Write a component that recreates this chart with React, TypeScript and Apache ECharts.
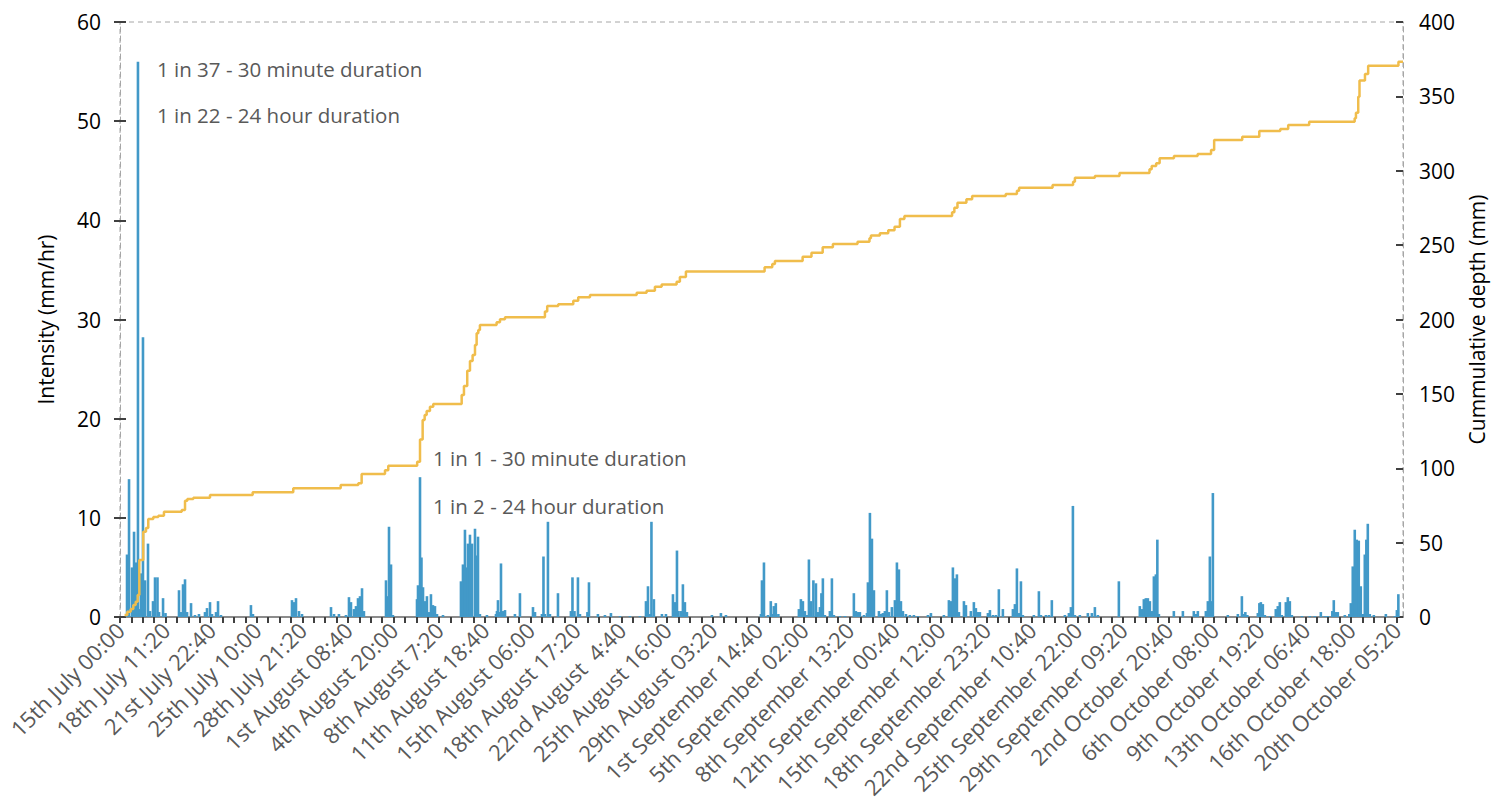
import React, { useEffect, useRef } from 'react';
import * as echarts from 'echarts';

const FONT = '"Open Sans", "Noto Sans", sans-serif';

// Time is counted in 10-minute steps from 15th July 00:00.
const STEPS_PER_LABEL = 500; // 83h20m between labelled ticks
const STEPS_PER_TICK = 125;
const X_MAX = 14070;

const tickLabels = [
  '15th July 00:00', '18th July 11:20', '21st July 22:40', '25th July 10:00', '28th July 21:20',
  '1st August 08:40', '4th August 20:00', '8th August 7:20', '11th August 18:40', '15th August 06:00',
  '18th August 17:20', '22nd August  4:40', '25th August 16:00', '29th August 03:20', '1st September 14:40',
  '5th September 02:00', '8th September 13:20', '12th September 00:40', '15th September 12:00',
  '18th September 23:20', '22nd September 10:40', '25th September 22:00', '29th September 09:20',
  '2nd October 20:40', '6th October 08:00', '9th October 19:20', '13th October 06:40',
  '16th October 18:00', '20th October 05:20',
];

// [step, intensity mm/hr]
const julyRain = [
  [77, 6.3], [99, 13.9], [132, 5.0], [154, 8.6], [175, 5.5], [197, 56.0], [219, 0.8], [230, 4.4],
  [252, 28.2], [274, 3.7], [307, 7.4], [329, 0.6], [362, 1.6], [384, 4.0], [411, 4.0], [428, 0.5],
  [472, 1.9], [499, 0.4], [647, 2.7], [669, 0.5], [691, 3.3], [713, 3.8], [735, 0.5], [779, 1.4],
  [822, 0.2], [866, 0.3], [932, 0.5], [954, 0.9], [987, 1.5], [1009, 0.3], [1053, 0.5], [1075, 1.6],
  [1107, 0.2], [1436, 1.2], [1458, 0.3], [1886, 1.7], [1908, 1.5], [1930, 1.9], [1963, 0.6],
  [1996, 0.3], [2314, 1.0], [2347, 0.3], [2401, 0.3],
];

const augustRain = [
  [2478, 0.2], [2511, 2.0], [2533, 1.5], [2566, 0.8], [2588, 1.1], [2610, 1.9], [2632, 2.1],
  [2654, 2.9], [2675, 0.6], [2917, 3.7], [2933, 2.1], [2950, 9.1], [2972, 5.3], [2993, 0.2],
  [3257, 1.8], [3268, 3.2], [3290, 14.1], [3306, 6.0], [3323, 3.0], [3345, 1.6], [3366, 2.1],
  [3388, 0.5], [3410, 2.3], [3432, 1.2], [3454, 1.1], [3476, 0.3], [3542, 0.2], [3739, 3.6],
  [3761, 5.3], [3783, 8.8], [3805, 5.0], [3816, 7.4], [3838, 8.3], [3860, 7.4], [3893, 8.9],
  [3909, 6.2], [3926, 8.1], [3947, 0.3], [4024, 0.2], [4123, 0.3], [4134, 0.6], [4145, 1.7],
  [4161, 0.5], [4178, 5.4], [4200, 0.6], [4222, 0.7], [4331, 0.3], [4386, 2.4], [4529, 1.0],
  [4551, 0.5], [4627, 0.3], [4644, 6.1], [4660, 0.3], [4693, 9.6], [4715, 0.3], [4803, 2.4],
  [4945, 0.6], [4962, 4.0], [4984, 0.6], [5022, 4.0], [5044, 0.3], [5126, 0.5], [5143, 3.5],
  [5241, 0.3], [5318, 0.2], [5384, 0.4], [5483, 0.1], [5592, 0.1], [5702, 0.1], [5768, 1.6],
  [5790, 3.1], [5812, 0.3], [5828, 9.6], [5855, 1.8], [5943, 0.3], [5987, 0.3], [6064, 2.3],
  [6086, 1.5], [6108, 6.7], [6124, 0.6], [6151, 0.6], [6173, 3.3], [6195, 1.5], [6217, 0.5],
  [6491, 0.2], [6590, 0.4], [6645, 0.2],
];

const septemberRain = [
  [7029, 0.3], [7040, 3.7], [7062, 5.5], [7105, 0.2], [7137, 1.6], [7159, 0.3], [7170, 1.1],
  [7192, 1.4], [7220, 0.3], [7445, 0.8], [7467, 1.8], [7489, 1.6], [7511, 0.6], [7533, 0.2],
  [7555, 5.8], [7577, 1.6], [7604, 3.7], [7632, 3.4], [7654, 0.5], [7676, 1.0], [7692, 2.4],
  [7708, 3.9], [7730, 0.2], [7785, 0.6], [7807, 3.9], [7829, 0.2], [7895, 0.1], [7950, 0.1],
  [8048, 2.4], [8070, 0.6], [8092, 0.5], [8114, 0.5], [8158, 0.2], [8191, 0.4], [8202, 3.5],
  [8224, 10.5], [8246, 7.9], [8268, 2.7], [8323, 0.6], [8344, 0.3], [8366, 0.4], [8388, 0.6],
  [8410, 2.7], [8432, 0.5], [8465, 1.0], [8498, 1.7], [8520, 5.5], [8542, 4.8], [8564, 1.6],
  [8586, 0.6], [8619, 0.3], [8662, 0.2], [8706, 0.2], [8750, 0.1], [8860, 0.2], [8893, 0.4],
  [9035, 0.2], [9090, 1.7], [9112, 1.6], [9134, 5.0], [9156, 3.9], [9178, 4.3], [9200, 0.5],
  [9255, 1.6], [9277, 1.2], [9331, 0.6], [9364, 1.5], [9386, 0.9], [9408, 0.5], [9430, 0.5],
  [9518, 0.4], [9540, 0.7], [9573, 0.2], [9605, 0.2], [9638, 2.8], [9682, 0.8], [9792, 0.8],
  [9814, 1.3], [9836, 4.9], [9857, 0.4], [9880, 3.6], [9901, 0.2], [10022, 0.2], [10077, 2.6],
  [10099, 0.2], [10154, 0.2], [10187, 0.2], [10219, 1.7], [10362, 0.2], [10406, 0.4], [10428, 1.0],
  [10450, 11.2], [10472, 0.2], [10526, 0.2], [10614, 0.4], [10658, 0.4], [10691, 1.0], [10724, 0.2],
  [10954, 3.6], [11184, 1.1], [11206, 0.8], [11228, 1.8],
];

const octoberRain = [
  [11250, 1.9], [11272, 1.9], [11294, 1.6], [11316, 0.6], [11338, 4.1], [11360, 4.3], [11376, 7.8],
  [11393, 0.3], [11557, 0.6], [11656, 0.6], [11776, 0.6], [11798, 0.3], [11820, 0.6], [11908, 0.6],
  [11930, 1.6], [11952, 6.1], [11968, 1.6], [11985, 12.5], [12149, 0.2], [12259, 0.3], [12303, 2.1],
  [12325, 0.3], [12341, 0.5], [12363, 0.2], [12478, 0.4], [12495, 1.4], [12511, 1.5], [12533, 1.3],
  [12555, 0.2], [12610, 0.1], [12675, 0.8], [12697, 1.1], [12719, 1.5], [12741, 0.2], [12785, 1.5],
  [12807, 2.0], [12829, 1.6], [12851, 0.2], [12961, 0.1], [13048, 0.1], [13103, 0.1], [13169, 0.5],
  [13213, 0.1], [13245, 0.1], [13295, 0.6], [13311, 1.7], [13333, 0.5], [13355, 0.5], [13432, 0.2],
  [13481, 0.3], [13498, 1.4], [13519, 5.1], [13541, 8.8], [13563, 7.8], [13585, 7.7], [13607, 3.1],
  [13629, 0.3], [13651, 6.3], [13668, 7.8], [13684, 9.4], [13706, 0.3], [13750, 0.2], [13882, 0.3],
  [13980, 0.1], [14003, 0.7], [14019, 2.3],
];

// [step, cumulative depth mm] — each level holds until the next step
const cumulativeDepth = [
  [50, 1.3], [80, 3.6], [117, 5.4], [146, 8.1], [172, 10.3], [194, 14.8], [212, 38.3], [255, 57.3],
  [285, 59.8], [310, 65.9], [365, 67.2], [420, 68.1], [482, 70.8], [677, 71.9], [713, 78.2],
  [738, 79.3], [804, 80.2], [987, 82.0], [1455, 83.8], [1900, 86.5], [2420, 88.7], [2613, 89.9],
  [2650, 96.1], [2906, 98.6], [2942, 101.6], [3259, 104.4], [3290, 119.4], [3319, 132.4],
  [3341, 135.8], [3363, 138.5], [3399, 141.4], [3435, 143.2], [3747, 149.2], [3772, 155.3],
  [3808, 165.6], [3838, 172.1], [3867, 176.1], [3893, 182.9], [3911, 190.7], [3929, 192.9],
  [3947, 196.3], [4130, 198.1], [4167, 200.1], [4222, 201.5], [4660, 205.3], [4685, 209.1],
  [4806, 210.2], [4971, 212.6], [5025, 214.9], [5154, 216.5], [5666, 218.0], [5775, 219.4],
  [5866, 222.1], [5940, 223.6], [6104, 225.4], [6140, 228.5], [6206, 232.2], [7069, 235.1],
  [7153, 237.3], [7182, 239.3], [7486, 242.2], [7583, 244.9], [7706, 248.5], [7818, 250.8],
  [8088, 252.3], [8219, 254.6], [8235, 256.4], [8333, 258.0], [8425, 260.0], [8494, 262.4],
  [8553, 267.6], [8602, 269.6], [9125, 272.1], [9150, 275.2], [9184, 278.5], [9282, 280.8],
  [9345, 283.0], [9713, 284.4], [9836, 286.6], [9860, 288.6], [10227, 290.4], [10452, 292.6],
  [10472, 295.3], [10691, 296.5], [10961, 298.5], [11290, 301.0], [11314, 303.2], [11363, 305.0],
  [11401, 308.4], [11558, 309.9], [11818, 311.3], [11965, 313.9], [11999, 320.7], [12307, 322.9],
  [12494, 326.7], [12724, 328.1], [12811, 330.8], [13041, 333.0], [13540, 335.3], [13554, 339.0],
  [13579, 349.8], [13593, 360.6], [13653, 365.0], [13688, 370.6], [14020, 373.3], [14070, 373.3],
];

const annotations = [
  { text: '1 in 37 - 30 minute duration', x: 157, y: 69 },
  { text: '1 in 22 - 24 hour duration', x: 157, y: 115 },
  { text: '1 in 1 - 30 minute duration', x: 433, y: 458 },
  { text: '1 in 2 - 24 hour duration', x: 433, y: 506 },
];

export default function App() {
  const ref = useRef<HTMLDivElement>(null);

  useEffect(() => {
    if (!ref.current) return;
    const chart = echarts.init(ref.current, null, { renderer: 'svg' });

    const tickValues: number[] = [];
    for (let v = 0; v <= (tickLabels.length - 1) * STEPS_PER_LABEL; v += STEPS_PER_TICK) tickValues.push(v);
    const labelValues = tickLabels.map((_, i) => i * STEPS_PER_LABEL);
    const bars = [...julyRain, ...augustRain, ...septemberRain, ...octoberRain];

    const tickStyle = { color: '#404040', width: 2 };
    const dashedLine = { color: '#a6a6a6', width: 1, type: [5, 4] as any };

    chart.setOption({
      animation: false,
      grid: {
        left: 120, right: 88, top: 22, bottom: 188,
        containLabel: false, outerBoundsMode: 'none',
        show: true, borderColor: '#a6a6a6', borderWidth: 1, borderType: [5, 4],
        backgroundColor: 'transparent',
      },
      xAxis: {
        type: 'value', min: 0, max: X_MAX,
        axisLine: { show: true, onZero: false, lineStyle: { color: '#8c8c8c', width: 2 } },
        axisTick: { show: true, customValues: tickValues, length: 6, lineStyle: tickStyle },
        axisLabel: {
          show: true, customValues: labelValues, rotate: 45, margin: 9,
          color: '#595959', fontSize: 22, fontFamily: FONT,
          formatter: (v: number) => tickLabels[Math.round(v / STEPS_PER_LABEL)] ?? '',
        },
        splitLine: { show: false },
      },
      yAxis: [
        {
          type: 'value', position: 'left', min: 0, max: 60, interval: 10,
          name: 'Intensity (mm/hr)', nameLocation: 'middle', nameGap: 64,
          nameTextStyle: { color: '#000', fontSize: 21, fontFamily: FONT },
          axisLine: { show: true, lineStyle: dashedLine },
          axisTick: { show: true, length: 6, lineStyle: tickStyle },
          axisLabel: { color: '#000', fontSize: 21, fontFamily: FONT, margin: 19 },
          splitLine: { show: false },
        },
        {
          type: 'value', position: 'right', min: 0, max: 400, interval: 50,
          name: 'Cummulative depth (mm)', nameLocation: 'middle', nameGap: 63,
          nameTextStyle: { color: '#000', fontSize: 21, fontFamily: FONT },
          axisLine: { show: true, lineStyle: dashedLine },
          axisTick: { show: true, inside: true, length: 7, lineStyle: tickStyle },
          axisLabel: { color: '#000', fontSize: 21, fontFamily: FONT, margin: 16 },
          splitLine: { show: false },
        },
        {
          type: 'value', position: 'left', min: 0, max: 60, interval: 10,
          axisLine: { show: false },
          axisTick: { show: true, inside: true, length: 6, lineStyle: tickStyle },
          axisLabel: { show: false },
          splitLine: { show: false },
        },
      ],
      series: [
        {
          type: 'bar', name: 'Intensity', yAxisIndex: 0, data: bars, barWidth: 2.6,
          itemStyle: { color: '#4299c8' }, z: 2,
        },
        {
          type: 'line', name: 'Cumulative depth', yAxisIndex: 1, data: cumulativeDepth, step: 'end',
          showSymbol: false, symbol: 'none',
          lineStyle: { color: '#f0bd4c', width: 2.5 }, z: 3,
        },
      ],
      graphic: annotations.map((a) => ({
        type: 'text', x: a.x, y: a.y,
        style: { text: a.text, fill: '#595959', fontSize: 20.5, fontFamily: FONT, verticalAlign: 'middle' },
      })),
    });

    return () => chart.dispose();
  }, []);

  return <div ref={ref} style={{ position: 'absolute', left: 0, top: 0, width: 1491, height: 805 }} />;
}
